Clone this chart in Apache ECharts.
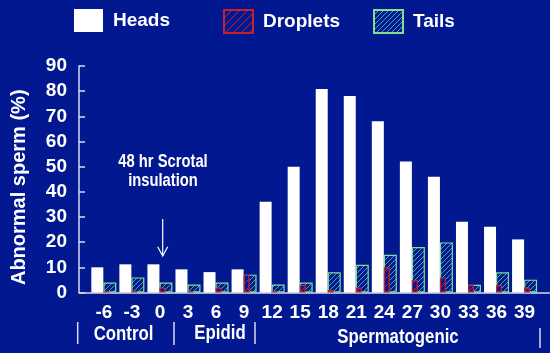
<!DOCTYPE html>
<html><head><meta charset="utf-8">
<script src="https://cdn.jsdelivr.net/npm/echarts@6/dist/echarts.min.js"></script>
<style>html,body{margin:0;padding:0;background:#021890;}#c{width:550px;height:353px;}</style>
</head><body><div id="c"></div>
<script>
const categories = ['-6','-3','0','3','6','9','12','15','18','21','24','27','30','33','36','39'];
const heads    = [10, 11.2, 11.2, 9.2, 8.1, 9.2, 36.1, 50, 80.9, 78.1, 68, 52.1, 46, 28.1, 26.1, 21.1];
const droplets = [0.5, 0.5, 2, 0.5, 2, 7, 0.5, 3, 1, 2, 10, 5, 6, 3, 3, 2];
const tails    = [4, 6, 4, 3.2, 4, 7.1, 3.2, 4, 8, 11, 15, 18.1, 19.9, 3.1, 8, 5.1];
const yMin = 0, yMax = 90, yStep = 10;
const groupNames = ['Control', 'Epidid', 'Spermatogenic'];
const noteLines = ['48 hr Scrotal', 'insulation'];

const BG = '#021890';
const AX = '#d8d8ee';
const SANS = '"Liberation Sans", Arial, sans-serif';

function hatch(color, size, lw) {
  const c = document.createElement('canvas');
  c.width = size; c.height = size;
  const g = c.getContext('2d');
  g.fillStyle = BG; g.fillRect(0, 0, size, size);
  g.strokeStyle = color; g.lineWidth = lw;
  g.beginPath();
  g.moveTo(0, size); g.lineTo(size, 0);
  g.moveTo(-1, 1); g.lineTo(1, -1);
  g.moveTo(size - 1, size + 1); g.lineTo(size + 1, size - 1);
  g.stroke();
  return { image: c, repeat: 'repeat' };
}

function narrowText(txt, x, y, size, sx) {
  return { type: 'text', x: x, y: y, scaleX: sx || 0.8,
    style: { text: txt, fill: '#fff', font: 'bold ' + size + 'px ' + SANS, textAlign: 'center', textVerticalAlign: 'middle' } };
}

const chart = echarts.init(document.getElementById('c'), null, { renderer: 'canvas' });
const legendBase = {
  icon: 'rect', itemWidth: 29, itemHeight: 23, top: 9, padding: 0, selectedMode: false,
  textStyle: { color: '#fff', fontFamily: SANS, fontWeight: 'bold', fontSize: 19, padding: [12, 0, 0, 5] }
};
const sepStyle = { stroke: AX, lineWidth: 1.5 };

chart.setOption({
  backgroundColor: BG,
  animation: false,
  legend: [
    Object.assign({ data: ['Heads'], left: 74 }, legendBase),
    Object.assign({ data: ['Droplets'], left: 223 }, legendBase),
    Object.assign({ data: ['Tails'], left: 373 }, legendBase)
  ],
  grid: [
    { left: 79, right: 0, top: 66, bottom: 60.5 },
    { left: 89.8, right: 11.4, top: 66, bottom: 60.5 }
  ],
  xAxis: [
    { gridIndex: 0, type: 'value', min: 0, max: 1,
      axisLine: { show: true, lineStyle: { color: AX, width: 1.5 } },
      axisTick: { show: false }, axisLabel: { show: false }, splitLine: { show: false } },
    { gridIndex: 1, type: 'category', data: categories,
      axisLine: { show: false }, axisTick: { show: false },
      axisLabel: { color: '#fff', fontSize: 19, fontWeight: 'bold', fontFamily: SANS, margin: 11, interval: 0 } },
    { gridIndex: 1, type: 'category', data: categories, show: false }
  ],
  yAxis: [
    { gridIndex: 0, type: 'value', min: yMin, max: yMax, interval: yStep,
      axisLine: { show: true, lineStyle: { color: AX, width: 1.5 } },
      axisTick: { show: true, inside: true, length: 6, lineStyle: { color: AX, width: 1.5 } },
      axisLabel: { color: '#fff', fontSize: 19, fontWeight: 'bold', fontFamily: SANS, margin: 12 },
      splitLine: { show: false },
      name: 'Abnormal sperm (%)', nameLocation: 'middle', nameGap: 50,
      nameTextStyle: { color: '#fff', fontSize: 20, fontWeight: 'bold', fontFamily: SANS, padding: [0, 16, 0, 0] } },
    { gridIndex: 1, type: 'value', min: yMin, max: yMax, show: false }
  ],
  series: [
    { name: 'Heads', type: 'bar', xAxisIndex: 1, yAxisIndex: 1, barWidth: 12, barGap: '0%',
      data: heads, itemStyle: { color: '#ffffff' }, z: 2 },
    { name: 'Droplets', type: 'bar', xAxisIndex: 1, yAxisIndex: 1, barWidth: 6, barGap: '0%',
      data: droplets, z: 4,
      itemStyle: { color: hatch('#d02030', 8, 1), borderColor: '#c8202c', borderWidth: 1.2 } },
    { name: '_padA', type: 'bar', xAxisIndex: 1, yAxisIndex: 1, barWidth: 7, barGap: '0%', data: [] },
    { name: '_padB', type: 'bar', xAxisIndex: 2, yAxisIndex: 1, barWidth: 12, barGap: '0%', data: [] },
    { name: 'Tails', type: 'bar', xAxisIndex: 2, yAxisIndex: 1, barWidth: 13, barGap: '0%',
      data: tails, z: 3,
      itemStyle: { color: hatch('#46a8a8', 5, 1), borderColor: '#80e090', borderWidth: 1.2 } }
  ],
  graphic: [
    { type: 'line', shape: { x1: 77.7, y1: 322, x2: 77.7, y2: 344 }, style: sepStyle },
    { type: 'line', shape: { x1: 174, y1: 322, x2: 174, y2: 345 }, style: sepStyle },
    { type: 'line', shape: { x1: 255, y1: 322, x2: 255, y2: 344 }, style: sepStyle },
    { type: 'line', shape: { x1: 540, y1: 328, x2: 540, y2: 348 }, style: sepStyle },
    narrowText(groupNames[0], 123.5, 334, 21),
    narrowText(groupNames[1], 220, 333, 21),
    narrowText(groupNames[2], 398, 337, 21),
    narrowText(noteLines[0], 163, 162.5, 18, 0.82),
    narrowText(noteLines[1], 163, 181, 18, 0.82),
    { type: 'line', shape: { x1: 162.7, y1: 219, x2: 162.7, y2: 256 }, style: { stroke: '#fff', lineWidth: 1.2 } },
    { type: 'polyline', shape: { points: [[157.7, 246.7], [162.7, 256], [167.7, 246.7]] }, style: { stroke: '#fff', lineWidth: 1.2, fill: null } }
  ]
});
</script>
</body></html>
